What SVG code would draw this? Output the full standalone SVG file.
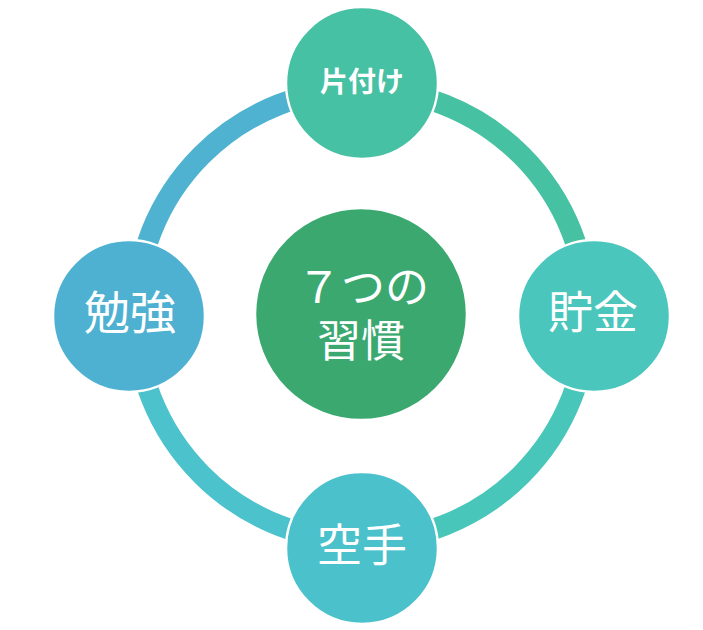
<svg xmlns="http://www.w3.org/2000/svg" width="703" height="630" viewBox="0 0 703 630">
  <style>
    .arc { fill: none; stroke-width: 21; }
    .node { stroke: #ffffff; stroke-width: 2.5; }
    .lbl { fill: #ffffff; font-family: "Noto Sans CJK JP", "Noto Sans", sans-serif; text-anchor: middle; }
  </style>
  <rect width="703" height="630" fill="#ffffff"/>
  <g id="connectors">
    <path class="arc" stroke="#46C1A2" d="M361.5,89 A226,226 0 0 1 587.5,315"/>
    <path class="arc" stroke="#49C6BA" d="M587.5,315 A226,226 0 0 1 361.5,541"/>
    <path class="arc" stroke="#4BC2CC" d="M361.5,541 A226,226 0 0 1 135.5,315"/>
    <path class="arc" stroke="#4FB2D1" d="M135.5,315 A226,226 0 0 1 361.5,89"/>
  </g>
  <g id="center">
    <circle cx="361" cy="314" r="106" fill="#3BA870" class="node"/>
    <text class="lbl" font-size="44"><tspan x="363" y="303">７つの</tspan><tspan x="361" y="357">習慣</tspan></text>
  </g>
  <g id="node-katazuke">
    <circle cx="362" cy="83" r="76" fill="#46C1A3" class="node"/>
    <text class="lbl" x="362" y="92" font-size="28" font-weight="bold">片付け</text>
  </g>
  <g id="node-chokin">
    <circle cx="594" cy="316" r="76" fill="#4AC6BC" class="node"/>
    <text class="lbl" x="593" y="329" font-size="45">貯金</text>
  </g>
  <g id="node-karate">
    <circle cx="362" cy="548" r="76" fill="#4BC1CC" class="node"/>
    <text class="lbl" x="362" y="562" font-size="45">空手</text>
  </g>
  <g id="node-benkyo">
    <circle cx="129" cy="316" r="76" fill="#4FB1D1" class="node"/>
    <text class="lbl" x="130" y="329" font-size="46">勉強</text>
  </g>
</svg>
